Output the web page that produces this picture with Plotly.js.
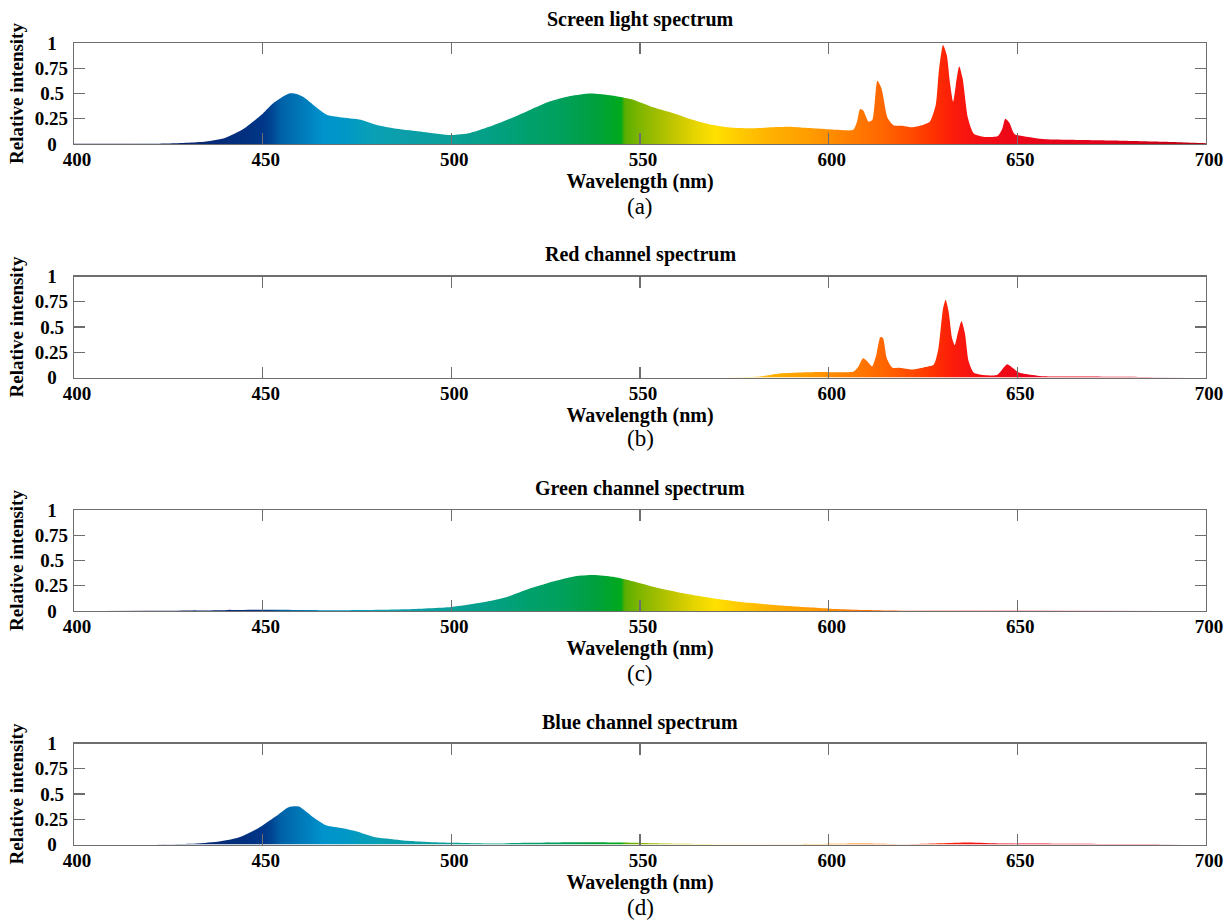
<!DOCTYPE html>
<html>
<head>
<meta charset="utf-8">
<script src="https://cdn.plot.ly/plotly-3.0.1.min.js"></script>
<style>html,body{margin:0;padding:0;background:#fff;}#chart{width:1228px;height:920px;}</style>
</head>
<body>
<div id="chart"></div>
<script>
// ---------- data ----------
const panelTitles = ["Screen light spectrum", "Red channel spectrum", "Green channel spectrum", "Blue channel spectrum"];
const panelLabels = ["(a)", "(b)", "(c)", "(d)"];
const xTickVals = [400, 450, 500, 550, 600, 650, 700];
const yTickVals = [0, 0.25, 0.5, 0.75, 1];
const yTickText = ["0\u2007\u200a", "0.25", "0.5\u2009", "0.75", "1\u2007\u200a"];

const wlA = [400,410,420,425,430,435,440,445,450,453,457,459,461,464,467,470.5,476,480,485.5,492.5,500,505,510,515.5,521,526,531.5,537,542.5,548,553,558.5,564,569,574.5,580,585,589.5,593.5,598,602,606.5,607.5,608.3,609.2,610.6,611.6,612.9,614,615.6,617.2,619.3,622,624.7,626.8,628.4,629.2,630.3,631.3,632.1,633,633.7,634.6,635.5,636.9,638.5,641.7,644.9,646,646.8,647.9,649.2,651.3,656.6,667.3,678,688.6,699,700];
const intA = [0.002,0.002,0.003,0.005,0.012,0.025,0.06,0.15,0.30,0.41,0.50,0.495,0.46,0.37,0.29,0.265,0.24,0.19,0.15,0.12,0.09,0.11,0.17,0.25,0.34,0.42,0.475,0.50,0.48,0.44,0.37,0.31,0.24,0.19,0.16,0.155,0.165,0.17,0.16,0.15,0.14,0.14,0.22,0.345,0.33,0.22,0.24,0.625,0.55,0.26,0.185,0.18,0.165,0.185,0.22,0.39,0.72,0.98,0.88,0.62,0.42,0.585,0.77,0.65,0.26,0.10,0.07,0.08,0.15,0.25,0.21,0.10,0.08,0.05,0.04,0.033,0.023,0.01,0.008];

const wlB = [400,570,576,581.8,587,592.4,598.6,600.4,606.6,607.9,609.1,610.1,611.5,612.6,613.7,614.4,615.4,616.8,619,622.1,625.2,627.8,629.1,630.3,631,631.8,632.7,633.4,634.3,635.2,636.1,637.1,638.4,641.1,644.6,646.2,647.3,648.6,650.4,652.6,657,666,679,688,700];
const intB = [0,0,0.002,0.01,0.04,0.05,0.055,0.053,0.06,0.11,0.19,0.165,0.11,0.22,0.40,0.39,0.19,0.10,0.095,0.08,0.10,0.125,0.29,0.68,0.77,0.65,0.39,0.32,0.45,0.56,0.44,0.16,0.05,0.025,0.025,0.09,0.13,0.10,0.05,0.033,0.013,0.01,0.007,0.002,0];

const wlC = [400,420,440,450,460,468,478,488,500,508.4,514.5,520.6,526.7,532.8,537.8,542.9,549,555.1,562.2,569.3,577.4,585.5,594.7,600.3,609.8,620,640,700];
const intC = [0,0.002,0.008,0.012,0.01,0.008,0.01,0.017,0.04,0.086,0.136,0.22,0.29,0.345,0.357,0.338,0.285,0.225,0.17,0.126,0.086,0.06,0.036,0.023,0.01,0.003,0.002,0];

const wlD = [400,420,431,438,443.4,448.8,453.3,456.9,459.6,463.2,466.8,471.2,474.8,479.3,486.5,495.4,500.8,509.8,520.5,533,545.6,556.4,572.5,590.4,610.2,619.1,629.9,637.1,646,662,689,700];
const intD = [0,0,0.007,0.027,0.066,0.16,0.275,0.37,0.375,0.275,0.19,0.16,0.13,0.076,0.043,0.023,0.017,0.01,0.017,0.023,0.02,0.01,0.003,0.003,0.01,0.003,0.013,0.02,0.01,0.007,0.003,0];

// spectral colour stops: wavelength (nm) and colour
const specWl = [400,430,445,450,452,455,460,466,472,480,490,500,510,520,530,538,545,546,550,555,560,565,570,577,585,595,605,615,622,628,633,640,650,670,690,700];
const specCol = ["#1c1f5c","#0b2671","#02307e","#003688","#00428f","#0062a8","#0078b8","#0092cc","#0098c6","#0aa0b4","#0c9ea6","#0aa098","#04a086","#00a06e","#00a05a","#00a03e","#00aa1c","#5aae00","#80b600","#a4be00","#c8c800","#e8d600","#ffe000","#ffc800","#ffb000","#ff9c00","#ff8000","#ff6400","#ff4a00","#ff3000","#fb1c0a","#f40e14","#ec0618","#e2021a","#c80014","#b00012"];

// ---------- build ----------
const W = 1228, H = 920;
const xLeft = 74, xRight = 1206;
const plotTops = [43, 276.5, 510, 743.5];
const plotH = 101;
const titleY = [20, 254, 488, 722];
const labelY = [206, 439, 673, 907];
const serif = "Liberation Serif, Times New Roman, serif";

const colorscale = specWl.map((w, i) => [(w - specWl[0]) / (specWl[specWl.length - 1] - specWl[0]), specCol[i]]);
const series = [[wlA, intA], [wlB, intB], [wlC, intC], [wlD, intD]];

const data = [];
const layout = {
  width: W, height: H,
  margin: {l: 0, r: 0, t: 0, b: 0},
  paper_bgcolor: "#ffffff", plot_bgcolor: "#ffffff",
  showlegend: false,
  font: {family: serif, color: "#000"},
  annotations: []
};

series.forEach((s, i) => {
  const n = i === 0 ? "" : String(i + 1);
  data.push({
    type: "scatter", mode: "lines",
    x: s[0], y: s[1],
    xaxis: "x" + n, yaxis: "y" + n,
    line: {width: 0, color: "rgba(0,0,0,0)", shape: "spline", smoothing: 0.6},
    fill: "tozeroy",
    fillgradient: {type: "horizontal", start: specWl[0], stop: specWl[specWl.length - 1], colorscale: colorscale},
    hoverinfo: "x+y"
  });
  const top = 1 - plotTops[i] / H, bot = 1 - (plotTops[i] + plotH) / H;
  const axCommon = {
    showline: true, linecolor: "#6e6e6e", linewidth: 1.3, mirror: "ticks",
    ticks: "inside", ticklen: 11, tickwidth: 1.2, tickcolor: "#6e6e6e",
    showgrid: false, zeroline: false, fixedrange: true,
    tickfont: {family: serif, size: 19, weight: "bold", color: "#000"}
  };
  layout["xaxis" + n] = Object.assign({}, axCommon, {
    domain: [xLeft / W, xRight / W], range: [400, 700], anchor: "y" + n,
    tickmode: "array", tickvals: xTickVals, ticklabelstandoff: -2, ticklabelshift: 3,
    title: {text: "Wavelength (nm)", font: {family: serif, size: 20, weight: "bold", color: "#000"}, standoff: 0}
  });
  layout["yaxis" + n] = Object.assign({}, axCommon, {
    domain: [bot, top], range: [0, 1], anchor: "x" + n,
    tickmode: "array", tickvals: yTickVals, ticktext: yTickText, ticklabelstandoff: 1,
    title: {text: "Relative intensity", font: {family: serif, size: 19, weight: "bold", color: "#000"}, standoff: 6}
  });
  layout.annotations.push({
    text: panelTitles[i], xref: "paper", yref: "paper",
    x: (xLeft + xRight) / 2 / W, y: 1 - titleY[i] / H, xanchor: "center", yanchor: "middle",
    showarrow: false, font: {family: serif, size: 20, weight: "bold", color: "#000"}
  });
  layout.annotations.push({
    text: panelLabels[i], xref: "paper", yref: "paper",
    x: (xLeft + xRight) / 2 / W, y: 1 - labelY[i] / H, xanchor: "center", yanchor: "middle",
    showarrow: false, font: {family: serif, size: 23, color: "#000"}
  });
});

Plotly.newPlot("chart", data, layout, {displayModeBar: false, staticPlot: true});
</script>
</body>
</html>
